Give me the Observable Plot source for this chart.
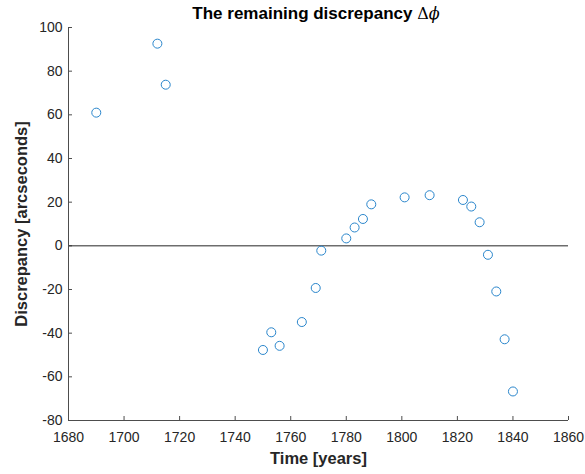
<!DOCTYPE html>
<html>
<head>
<meta charset="utf-8">
<script src="https://cdn.jsdelivr.net/npm/d3@7"></script>
<script src="https://cdn.jsdelivr.net/npm/@observablehq/plot@0.6"></script>
<style>
  html, body { margin: 0; padding: 0; background: #fff; }
  #wrap { position: relative; width: 585px; height: 474px; }
  #title { height: 20px; width: 585px; position: relative; font-family: "Liberation Sans", Arial, sans-serif; font-size: 17px; color: #000; }
  #title span.t { position: absolute; left: 316px; top: 4px; transform: translateX(-50%); white-space: nowrap; line-height: 20px; }
  svg { display: block; }
</style>
</head>
<body>
<div id="wrap">
  <div id="title"><span class="t"><b>The remaining discrepancy</b> <span style="font-family:'DejaVu Serif','Liberation Serif',serif;font-size:16px;">Δ<i>ϕ</i></span></span></div>
  <div id="chart"></div>
</div>
<script>
const years = [1690, 1712, 1715, 1750, 1753, 1756, 1764, 1769, 1771, 1780, 1783, 1786, 1789, 1801, 1810, 1822, 1825, 1828, 1831, 1834, 1837, 1840];
const discrepancy = [61.0, 92.6, 73.8, -47.7, -39.6, -45.8, -34.9, -19.3, -2.2, 3.4, 8.4, 12.3, 19.0, 22.2, 23.2, 21.0, 18.0, 10.8, -4.1, -20.9, -42.8, -66.7];
const xTicks = [1680, 1700, 1720, 1740, 1760, 1780, 1800, 1820, 1840, 1860];
const yTicks = [-80, -60, -40, -20, 0, 20, 40, 60, 80, 100];
const xLabel = "Time [years]";
const yLabel = "Discrepancy [arcseconds]";

const data = years.map((t, i) => ({t, d: discrepancy[i]}));

const W = 585, H = 454;
const mTop = 7, mBottom = 54, mLeft = 68, mRight = 17;
const innerW = W - mLeft - mRight, innerH = H - mTop - mBottom;
const axisColor = "#4d4d4d";
const textColor = "#262626";

const chart = Plot.plot({
  width: W,
  height: H,
  marginTop: mTop,
  marginBottom: mBottom,
  marginLeft: mLeft,
  marginRight: mRight,
  style: {fontFamily: "'Liberation Sans', Arial, sans-serif", fontSize: "14px", color: textColor, background: "#fff", overflow: "visible"},
  x: {domain: [1680, 1860], ticks: xTicks},
  y: {domain: [-80, 100], ticks: yTicks},
  marks: [
    Plot.axisX(xTicks, {tickSize: 0, tickPadding: 12, tickFormat: d => String(d), fontSize: 14, fill: textColor, label: null}),
    Plot.axisY(yTicks, {tickSize: 0, tickPadding: 6, tickFormat: d => String(d), fontSize: 14, fill: textColor, label: null}),
    Plot.tickX(xTicks, {x: d => d, stroke: axisColor, strokeWidth: 1, insetTop: innerH - 4}),
    Plot.tickY(yTicks, {y: d => d, stroke: axisColor, strokeWidth: 1, insetRight: innerW - 4}),
    Plot.ruleY([0], {stroke: "#262626", strokeWidth: 1}),
    Plot.ruleX([1680], {stroke: axisColor, strokeWidth: 1}),
    Plot.ruleY([-80], {stroke: axisColor, strokeWidth: 1}),
    Plot.dot(data, {x: "t", y: "d", r: 4.5, stroke: "#2a86cc", strokeWidth: 1, fill: "none"}),
    Plot.text([xLabel], {frameAnchor: "bottom", dy: 43, fontWeight: "bold", fontSize: 16.5, fill: textColor}),
    Plot.text([yLabel], {frameAnchor: "left", rotate: -90, textAnchor: "middle", dx: -47, fontWeight: "bold", fontSize: 16.5, fill: textColor})
  ]
});
document.getElementById("chart").appendChild(chart);
</script>
</body>
</html>
